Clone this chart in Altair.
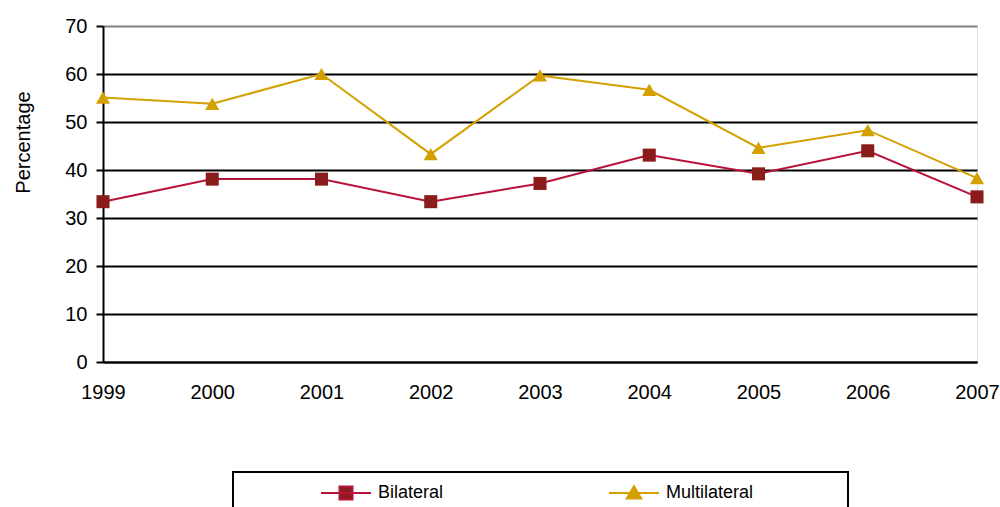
import altair as alt
import pandas as pd

# Share of aid (percent) by channel, 1999-2007
years = [1999, 2000, 2001, 2002, 2003, 2004, 2005, 2006, 2007]
bilateral = [33.4, 38.1, 38.1, 33.4, 37.2, 43.1, 39.2, 44.0, 34.4]
multilateral = [55.1, 53.8, 60.0, 43.3, 59.7, 56.7, 44.6, 48.3, 38.3]
y_ticks = [0, 10, 20, 30, 40, 50, 60, 70]

BIL_LINE, BIL_MARK = "#B8123A", "#8B1C1C"
MUL_LINE, MUL_MARK = "#D4A000", "#D4A000"
FONT = "Liberation Sans"

df_b = pd.DataFrame({"Year": years, "Value": bilateral, "Series": "Bilateral"})
df_m = pd.DataFrame({"Year": years, "Value": multilateral, "Series": "Multilateral"})

# legend glyphs: a short line with the series marker on it
sq_path = "M-1,0H1M-0.26,-0.26H0.26V0.26H-0.26Z"
tri_path = "M-1,0H1M0,-0.27L0.29,0.22L-0.29,0.22Z"

x_enc = alt.X(
    "Year:Q",
    scale=alt.Scale(domain=[1999, 2007], nice=False, zero=False),
    axis=alt.Axis(
        values=years, format="d", title=None, grid=False, ticks=False,
        domainColor="black", domainWidth=2, labelFontSize=20, labelFont=FONT,
        labelColor="black", labelPadding=20, labelFlush=False,
    ),
)
y_enc = alt.Y(
    "Value:Q",
    scale=alt.Scale(domain=[0, 70], nice=False),
    axis=alt.Axis(
        values=y_ticks, title="Percentage", titleFont=FONT, titleFontSize=20,
        titleFontWeight="normal", titleColor="black", titleX=-80, titleY=116,
        titleAlign="center", titleBaseline="middle", titleAngle=270,
        labelFontSize=20, labelFont=FONT, labelColor="black", labelPadding=9,
        tickColor="black", tickSize=7, tickWidth=2,
        domainColor="black", domainWidth=2,
        grid=True, gridWidth=2,
        gridColor={"condition": {"test": "datum.value == 70", "value": "#808080"},
                   "value": "black"},
    ),
)


def legend_for(x, path, fill, stroke):
    return alt.Legend(
        title=None, orient="none", legendX=x, legendY=441,
        symbolSize=2500, symbolType=path, symbolStrokeWidth=2,
        symbolFillColor=fill, symbolStrokeColor=stroke, symbolOpacity=1,
        labelOffset=6, labelFont=FONT, labelFontSize=18, labelColor="black",
        labelLimit=200,
    )


line_b = alt.Chart(df_b).mark_line(strokeWidth=2).encode(
    x=x_enc,
    y=y_enc,
    color=alt.Color("Series:N",
                    scale=alt.Scale(domain=["Bilateral"], range=[BIL_LINE]),
                    legend=legend_for(217, sq_path, BIL_MARK, BIL_LINE)),
)
line_m = alt.Chart(df_m).mark_line(strokeWidth=2).encode(
    x="Year:Q",
    y="Value:Q",
    stroke=alt.Stroke("Series:N",
                      scale=alt.Scale(domain=["Multilateral"], range=[MUL_LINE]),
                      legend=legend_for(505, tri_path, MUL_MARK, MUL_LINE)),
)

pts_b = alt.Chart(df_b).mark_point(
    shape="square", filled=True, opacity=1, size=170, color=BIL_MARK
).encode(x="Year:Q", y="Value:Q")
pts_m = alt.Chart(df_m).mark_point(
    shape="triangle-up", filled=True, opacity=1, size=200, color=MUL_MARK
).encode(x="Year:Q", y="Value:Q")

# frame around the legend
frame = alt.Chart(pd.DataFrame({"k": [0]})).mark_rect(
    fill=None, stroke="black", strokeWidth=2
).encode(
    x=alt.value(130), x2=alt.value(745), y=alt.value(446), y2=alt.value(530)
)

chart = alt.layer(line_b, line_m, pts_b, pts_m, frame).properties(
    width=874,
    height=336,
    autosize=alt.AutoSizeParams(type="none"),
    padding={"left": 103, "top": 26, "right": 23, "bottom": 145},
).configure_view(
    stroke="#808080", strokeWidth=2
).configure(background="white")

chart.save("out.html", embed_options={"renderer": "svg", "actions": False})
